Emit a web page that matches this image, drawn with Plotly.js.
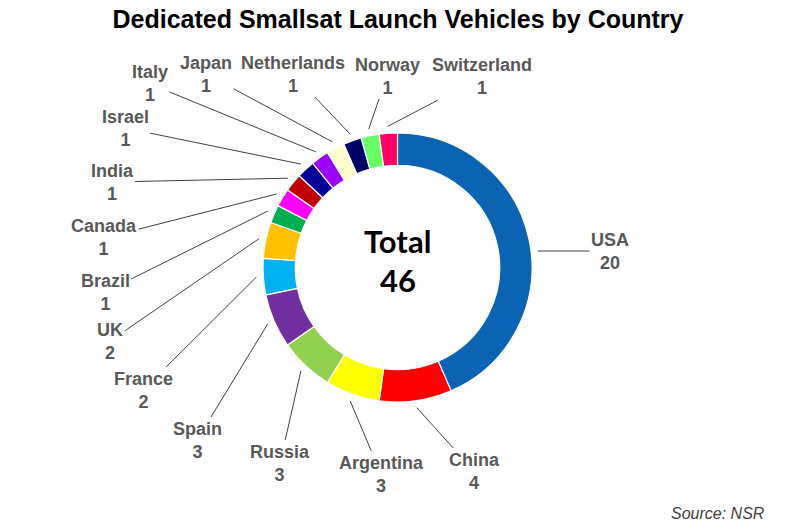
<!DOCTYPE html>
<html>
<head>
<meta charset="utf-8">
<script src="https://cdn.plot.ly/plotly-3.0.1.min.js"></script>
<style>html,body{margin:0;padding:0;background:#fff;}#chart{width:788px;height:526px;}</style>
</head>
<body>
<div id="chart"></div>
<script>
// ---- data ----
const countries = ["USA","China","Argentina","Russia","Spain","France","UK","Brazil","Canada","India","Israel","Italy","Japan","Netherlands","Norway","Switzerland"];
const launchVehicles = [20,4,3,3,3,2,2,1,1,1,1,1,1,1,1,1];
const sliceColors = ["#0B63B4","#FF0000","#FFFF00","#92D050","#7030A0","#00B0F0","#FFC000","#00B050","#FF00FF","#C00000","#000099","#9900FF","#FFFFCC","#000066","#66FF66","#FF0066"];

// ---- layout (label centres, px) ----
const labelPos = [[610,251],[474,471],[381,474],[280,463],[197,440],[143,390],[110,341],[105,292],[104,238],[112,182],[125,128],[150,84],[206,74],[293,74],[387,76],[482,77]];

const W = 788, H = 526;
const cx = 397.5, cy = 267.5, R = 134.5, tipR = R + 7;
const total = launchVehicles.reduce((a,b)=>a+b,0);
const labelFont = {family:'Liberation Sans, Arial, sans-serif', size:18, color:'#595959'};

const annotations = [];
let cum = 0;
countries.forEach((c,i)=>{
  const v = launchVehicles[i];
  const f = (cum + v/2)/total; cum += v;
  const th = 2*Math.PI*f;
  let tx = cx + tipR*Math.sin(th), ty = cy - tipR*Math.cos(th);
  const [lx,ly] = labelPos[i];
  if (lx > cx + R) { // label right of the ring: horizontal leader
    ty = ly; tx = cx + Math.sqrt(tipR*tipR - (ly-cy)*(ly-cy));
  }
  annotations.push({
    xref:'paper', yref:'paper', x: tx/W, y: 1 - ty/H,
    ax: lx - tx, ay: ly - ty,
    text: '<b>'+c+'<br>'+v+'</b>',
    showarrow:true, arrowhead:0, arrowwidth:1, arrowcolor:'#404040',
    standoff:0, startstandoff:0,
    font: labelFont, align:'center'
  });
});
// centre total
annotations.push({xref:'paper', yref:'paper', x: cx/W, y: 1-241/H, showarrow:false,
  xanchor:'center', yanchor:'middle', text:'<b>Total</b>',
  font:{family:'Lato, Carlito, sans-serif', size:31, color:'#000000'}});
annotations.push({xref:'paper', yref:'paper', x: cx/W, y: 1-280/H, showarrow:false,
  xanchor:'center', yanchor:'middle', text:'<b>'+total+'</b>',
  font:{family:'Lato, Carlito, sans-serif', size:31, color:'#000000'}});
annotations.push({
  xref:'paper', yref:'paper', x: 767/W, y: 1 - 513/H, xanchor:'right', yanchor:'middle',
  showarrow:false, text:'<i>Source: NSR</i>',
  font:{family:'Liberation Sans, Arial, sans-serif', size:16, color:'#404040'}
});

const trace = {
  type:'pie',
  values: launchVehicles,
  labels: countries,
  marker:{colors: sliceColors, line:{color:'#ffffff', width:1.2}},
  hole:0.76,
  sort:false,
  direction:'clockwise',
  rotation:0,
  textinfo:'none',
  hoverinfo:'label+value',
  showlegend:false,
  automargin:false,
  domain:{x:[(cx-R)/W,(cx+R)/W], y:[1-(cy+R)/H, 1-(cy-R)/H]}
};

const layout = {
  width:W, height:H,
  margin:{l:0,r:0,t:0,b:0},
  paper_bgcolor:'#ffffff',
  title:{text:'<b>Dedicated Smallsat Launch Vehicles by Country</b>',
         x:398/W, xanchor:'center', y:1-19/H, yanchor:'middle', yref:'container',
         font:{family:'Liberation Sans, Arial, sans-serif', size:25, color:'#000000'}},
  annotations: annotations,
  showlegend:false
};

Plotly.newPlot('chart',[trace],layout,{displayModeBar:false, staticPlot:true});
</script>
</body>
</html>
